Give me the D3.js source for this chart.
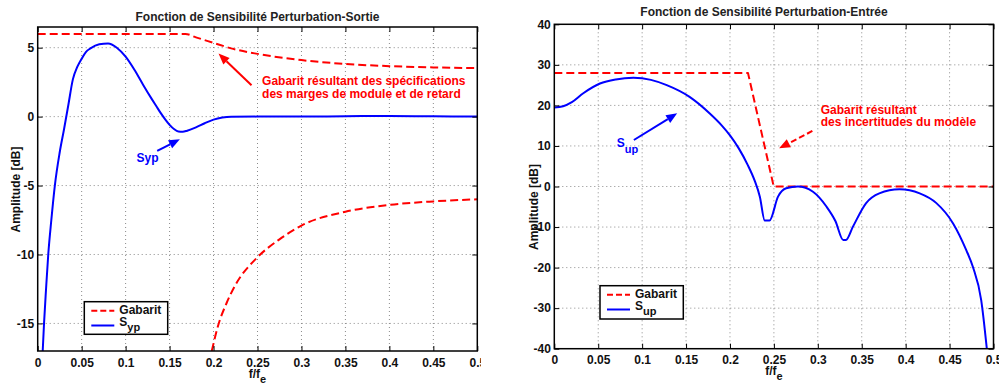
<!DOCTYPE html>
<html><head><meta charset="utf-8">
<script src="https://cdn.jsdelivr.net/npm/d3@7"></script>
<style>
body{margin:0;background:#fff}
text{font-family:"Liberation Sans",Arial,Helvetica,sans-serif;font-weight:bold}
</style>
</head><body>
<svg id="c" width="999" height="385"></svg>
<script>
// ---------- data ----------
const xTicks = [0,0.05,0.1,0.15,0.2,0.25,0.3,0.35,0.4,0.45,0.5];
const xTickLabels = ["0","0.05","0.1","0.15","0.2","0.25","0.3","0.35","0.4","0.45","0.5"];
const leftYTicks = [-15,-10,-5,0,5];
const leftYTickLabels = ["-15","-10","-5","0","5"];
const rightYTicks = [-40,-30,-20,-10,0,10,20,30,40];
const rightYTickLabels = ["-40","-30","-20","-10","0","10","20","30","40"];

// Left: S_yp
const sypF  = [0.0057,0.0072,0.0095,0.012,0.0155,0.0195,0.025,0.03,0.035,0.04,0.045,0.05,0.055,0.06,0.07,0.08,0.09,0.1,0.11,0.12,0.13,0.135,0.14,0.145,0.15,0.155,0.16,0.165,0.17,0.18,0.19,0.2,0.21,0.22,0.25,0.3,0.35,0.4,0.45,0.5];
const sypDb = [-17,-15,-12.5,-10,-7.5,-5,-2.6,-0.9,0.9,2.7,3.6,4.2,4.7,4.95,5.25,5.31,5.0,4.35,3.4,2.3,1.25,0.75,0.25,-0.2,-0.6,-0.9,-1.08,-1.1,-1.02,-0.78,-0.48,-0.22,-0.07,-0.01,0,0,0.03,0.05,0.02,0];
// Left: upper template
const gabUpF  = [0,0.168,0.18,0.2,0.22,0.25,0.3,0.35,0.4,0.45,0.5];
const gabUpDb = [6,6,5.75,5.35,4.95,4.55,4.1,3.82,3.66,3.57,3.52];
// Left: lower template
const gabLowF  = [0.198,0.205,0.215,0.225,0.25,0.275,0.3,0.35,0.4,0.45,0.5];
const gabLowDb = [-17,-15.2,-13.5,-12.2,-10.2,-8.9,-7.9,-6.9,-6.4,-6.15,-6.0];

// Right: S_up
const supF  = [0,0.01,0.02,0.033,0.052,0.07,0.09,0.11,0.128,0.154,0.177,0.19,0.2,0.21,0.22,0.228,0.234,0.2396,0.245,0.2547,0.264,0.2774,0.2945,0.31,0.32,0.329,0.332,0.34,0.355,0.37,0.393,0.416,0.435,0.454,0.469,0.4765,0.486,0.4924];
const supDb = [19.5,19.8,20.8,23.0,25.4,26.4,26.8,26.3,25.0,22.1,18.0,15.2,12.6,9.4,5.4,1.5,-2.5,-8.4,-8.4,-2.5,-0.45,0,-1.3,-5.0,-8.5,-13.2,-13.2,-9.9,-4.1,-1.7,-0.7,-1.7,-4.1,-9.1,-15.7,-19.8,-28,-40];
// Right: template
const gabRF  = [0,0.2205,0.2498,0.5];
const gabRDb = [28,28,0,0];

// annotations (data units)
const leftRedArrow  = [[0.2432,2.27],[0.2057,4.57]];
const leftBlueArrow = [[0.1359,-2.49],[0.1617,-1.64]];
const rightBlueArrow = [[0.0906,11.47],[0.1399,18.05]];
const rightRedArrow  = [[0.2938,13.69],[0.2559,9.42]];

const RED = "#ff0000", BLUE = "#0000ff";
const svg = d3.select("#c");

function panel(o){
  const g = svg.append("g");
  if (o.clipW){
    const id = "pc"+o.id;
    svg.append("defs").append("clipPath").attr("id",id).append("rect")
      .attr("x",o.clipX).attr("y",0).attr("width",o.clipW).attr("height",385);
    g.attr("clip-path",`url(#${id})`);
  }
  const x = d3.scaleLinear().domain([0,0.5]).range([o.x0,o.x1]);
  const y = d3.scaleLinear().domain(o.ydom).range([o.y1,o.y0]);
  // grid
  const grid = g.append("g").attr("stroke","#8a8a8a").attr("stroke-width",1).attr("stroke-dasharray","1,3");
  xTicks.filter(t=>t>0&&t<0.5).forEach(t=>grid.append("line").attr("x1",x(t)).attr("x2",x(t)).attr("y1",o.y0).attr("y2",o.y1));
  o.yTicks.filter(t=>t>o.ydom[0]&&t<o.ydom[1]).forEach(t=>grid.append("line").attr("y1",y(t)).attr("y2",y(t)).attr("x1",o.x0).attr("x2",o.x1));
  // clip for data
  const cid = "dc"+o.id;
  svg.append("defs").append("clipPath").attr("id",cid).append("rect")
    .attr("x",o.x0).attr("y",o.y0).attr("width",o.x1-o.x0).attr("height",o.y1-o.y0);
  const data = g.append("g").attr("clip-path",`url(#${cid})`);
  o.series.forEach(s=>{
    const pts = s.f.map((f,i)=>[f,s.v[i]]);
    const line = d3.line().x(d=>x(d[0])).y(d=>y(d[1])).curve(s.curve||d3.curveMonotoneX);
    data.append("path").attr("d",line(pts)).attr("fill","none")
      .attr("stroke",s.color).attr("stroke-width",2)
      .attr("stroke-dasharray",s.dash||null).attr("stroke-linejoin","round");
  });
  // axes (d3 axes, inward ticks on 4 sides)
  const bottom = g.append("g").attr("transform",`translate(0,${o.y1})`)
    .call(d3.axisBottom(x).tickValues(xTicks).tickFormat((d,i)=>xTickLabels[i]).tickSizeInner(-5).tickSizeOuter(0).tickPadding(7));
  const top = g.append("g").attr("transform",`translate(0,${o.y0})`)
    .call(d3.axisTop(x).tickValues(xTicks).tickFormat("").tickSizeInner(-5).tickSizeOuter(0));
  const left = g.append("g").attr("transform",`translate(${o.x0},0)`)
    .call(d3.axisLeft(y).tickValues(o.yTicks).tickFormat((d,i)=>o.yLabels[i]).tickSizeInner(-5).tickSizeOuter(0).tickPadding(3.5));
  const right = g.append("g").attr("transform",`translate(${o.x1},0)`)
    .call(d3.axisRight(y).tickValues(o.yTicks).tickFormat("").tickSizeInner(-5).tickSizeOuter(0));
  [bottom,top,left,right].forEach(a=>{
    a.select(".domain").remove();
    a.selectAll(".tick line").attr("stroke","#000").attr("stroke-width",1);
    a.selectAll("text").attr("font-size",12).attr("fill","#111")
      .attr("font-family","'Liberation Sans',Arial,sans-serif").attr("font-weight","bold");
  });
  g.append("rect").attr("x",o.x0).attr("y",o.y0).attr("width",o.x1-o.x0).attr("height",o.y1-o.y0)
    .attr("fill","none").attr("stroke","#000").attr("stroke-width",1.5);
  // title
  g.append("text").attr("x",o.titleX).attr("y",o.titleY).attr("text-anchor","middle")
    .attr("font-size",12).attr("fill","#222").text(o.title);
  // y label
  g.append("text").attr("transform",`translate(${o.ylabX},${o.ylabY}) rotate(-90)`)
    .attr("text-anchor","middle").attr("font-size",12).attr("fill","#111").text("Amplitude [dB]");
  // x label
  const xl = g.append("text").attr("x",o.xlabX).attr("y",o.xlabY).attr("text-anchor","middle").attr("font-size",12).attr("fill","#111");
  xl.append("tspan").text("f/f");
  xl.append("tspan").attr("dy",5).attr("font-size",11).text("e");
  // legend
  const L = o.legend;
  g.append("rect").attr("x",L.x).attr("y",L.y).attr("width",L.w).attr("height",L.h)
    .attr("fill","#fff").attr("stroke","#000").attr("stroke-width",1.5);
  g.append("line").attr("x1",L.x+7).attr("x2",L.x+30).attr("y1",L.y+9).attr("y2",L.y+9)
    .attr("stroke",RED).attr("stroke-width",2).attr("stroke-dasharray","6,3");
  g.append("text").attr("x",L.x+35).attr("y",L.y+12.6).attr("font-size",12).attr("fill","#111").text("Gabarit");
  g.append("line").attr("x1",L.x+7).attr("x2",L.x+30).attr("y1",L.y+23.8).attr("y2",L.y+23.8)
    .attr("stroke",BLUE).attr("stroke-width",2);
  const lt = g.append("text").attr("x",L.x+35).attr("y",L.y+24.5).attr("font-size",12).attr("fill","#111");
  lt.append("tspan").text("S");
  lt.append("tspan").attr("dy",4.5).attr("font-size",11).text(L.sub);
  return {g,x,y};
}

function arrow(g,x,y,pts,color,dash){
  const [a,b] = pts;
  const x1=x(a[0]),y1=y(a[1]),x2=x(b[0]),y2=y(b[1]);
  const ang = Math.atan2(y2-y1,x2-x1), L=11, W=4.5;
  const bx = x2-L*Math.cos(ang), by = y2-L*Math.sin(ang);
  g.append("line").attr("x1",x1).attr("y1",y1).attr("x2",bx).attr("y2",by)
    .attr("stroke",color).attr("stroke-width",2).attr("stroke-dasharray",dash||null);
  const px=-Math.sin(ang)*W, py=Math.cos(ang)*W;
  g.append("path").attr("d",`M${x2},${y2}L${bx+px},${by+py}L${bx-px},${by-py}Z`).attr("fill",color);
}

// ---------- left panel ----------
const P1 = panel({id:1, x0:37.7, x1:477.3, y0:27, y1:351, ydom:[-17,6.5],
  yTicks:leftYTicks, yLabels:leftYTickLabels, clipX:0, clipW:481,
  title:"Fonction de Sensibilité Perturbation-Sortie", titleX:257.5, titleY:21,
  ylabX:20, ylabY:189.5, xlabX:257.5, xlabY:378,
  legend:{x:84.3,y:301.7,w:83.4,h:32.6,sub:"yp"},
  series:[
    {f:gabUpF,v:gabUpDb,color:RED,dash:"8,4"},
    {f:gabLowF,v:gabLowDb,color:RED,dash:"8,4"},
    {f:sypF,v:sypDb,color:BLUE}
  ]});
arrow(P1.g,P1.x,P1.y,leftRedArrow,RED);
arrow(P1.g,P1.x,P1.y,leftBlueArrow,BLUE);
const ann1 = P1.g.append("text").attr("x",P1.x(0.2552)).attr("y",P1.y(2.27)).attr("font-size",12).attr("fill",RED);
ann1.append("tspan").text("Gabarit résultant des spécifications");
ann1.append("tspan").attr("x",P1.x(0.2552)).attr("dy",13).text("des marges de module et de retard");
P1.g.append("text").attr("x",P1.x(0.1125)).attr("y",P1.y(-3.29)).attr("font-size",12).attr("fill",BLUE).text("Syp");

// ---------- right panel ----------
const P2 = panel({id:2, x0:554.3, x1:993.5, y0:24.3, y1:348.7, ydom:[-40,40],
  yTicks:rightYTicks, yLabels:rightYTickLabels,
  title:"Fonction de Sensibilité Perturbation-Entrée", titleX:764, titleY:16,
  ylabX:538, ylabY:207, xlabX:774, xlabY:375,
  legend:{x:600,y:285.7,w:83.3,h:33.3,sub:"up"},
  series:[
    {f:gabRF,v:gabRDb,color:RED,dash:"8,4",curve:d3.curveLinear},
    {f:supF,v:supDb,color:BLUE}
  ]});
arrow(P2.g,P2.x,P2.y,rightBlueArrow,BLUE);
arrow(P2.g,P2.x,P2.y,rightRedArrow,RED,"6,3");
const ann2 = P2.g.append("text").attr("x",P2.x(0.3033)).attr("y",P2.y(17.88)).attr("font-size",12).attr("fill",RED);
ann2.append("tspan").text("Gabarit résultant");
ann2.append("tspan").attr("x",P2.x(0.3033)).attr("dy",12).text("des incertitudes du modèle");
const sl = P2.g.append("text").attr("x",P2.x(0.071)).attr("y",P2.y(9.8)).attr("font-size",12).attr("fill",BLUE);
sl.append("tspan").text("S");
sl.append("tspan").attr("dy",6).attr("font-size",11).text("up");
</script>
</body></html>
